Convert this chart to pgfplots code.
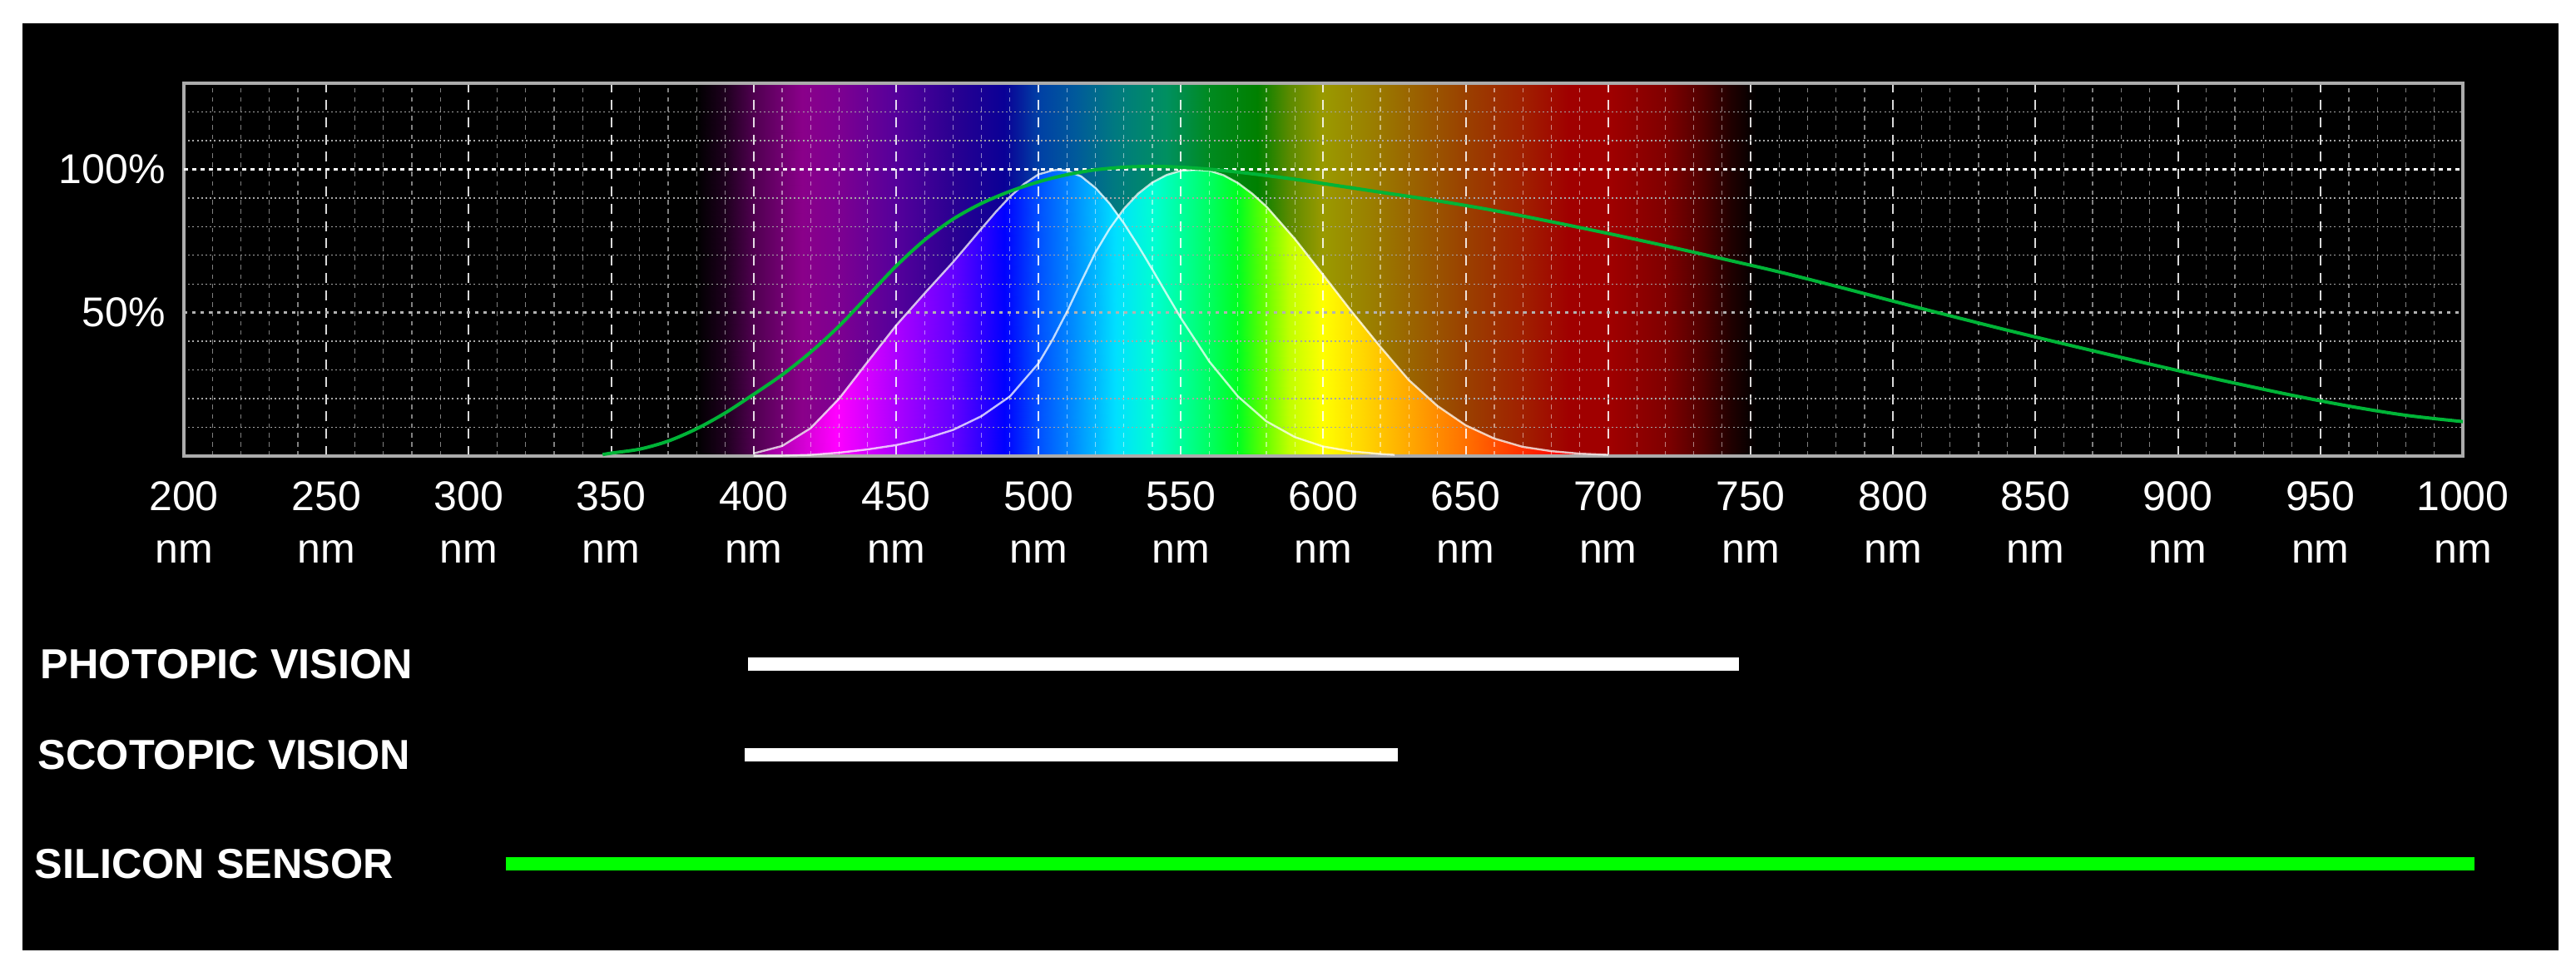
\documentclass[border=0pt]{standalone}
\usepackage{fontspec}
\setmainfont{Liberation Sans}
\usepackage{pgfplots}
\usepackage{pgfplotstable}
\pgfplotsset{compat=1.18}

\definecolor{sicurve}{RGB}{0,180,55}
\definecolor{sibar}{RGB}{0,255,0}

% dim spectrum behind the grid and bright spectrum under the eye curves
\pgfplotsset{
  colormap={dimspec}{
    rgb255(380pt)=(0,0,0) rgb255(390pt)=(30,0,30) rgb255(400pt)=(80,0,80)
    rgb255(417pt)=(138,0,138) rgb255(430pt)=(125,0,145) rgb255(450pt)=(85,0,155)
    rgb255(470pt)=(42,0,145) rgb255(488pt)=(10,0,150) rgb255(500pt)=(0,64,165)
    rgb255(513pt)=(0,90,155) rgb255(527pt)=(0,122,128) rgb255(545pt)=(0,144,96)
    rgb255(560pt)=(0,138,32) rgb255(577pt)=(0,128,0) rgb255(588pt)=(90,138,0)
    rgb255(600pt)=(154,154,0) rgb255(616pt)=(154,128,0) rgb255(633pt)=(154,96,0)
    rgb255(650pt)=(154,64,0) rgb255(670pt)=(160,32,0) rgb255(686pt)=(160,0,0)
    rgb255(700pt)=(160,0,0) rgb255(720pt)=(128,0,0) rgb255(733pt)=(80,0,0)
    rgb255(743pt)=(32,0,0) rgb255(752pt)=(0,0,0)
  },
  colormap={brightspec}{
    rgb255(380pt)=(0,0,0) rgb255(395pt)=(60,0,60) rgb255(405pt)=(160,0,160)
    rgb255(417pt)=(210,0,210) rgb255(429pt)=(255,0,255) rgb255(441pt)=(208,0,255)
    rgb255(453pt)=(160,0,255) rgb255(471pt)=(96,0,255) rgb255(488pt)=(0,0,255)
    rgb255(500pt)=(0,80,255) rgb255(513pt)=(0,144,255) rgb255(527pt)=(0,224,255)
    rgb255(541pt)=(0,255,208) rgb255(555pt)=(0,255,128) rgb255(570pt)=(0,255,32)
    rgb255(579pt)=(96,255,0) rgb255(588pt)=(192,255,0) rgb255(600pt)=(255,255,0)
    rgb255(616pt)=(255,208,0) rgb255(633pt)=(255,160,0) rgb255(650pt)=(255,112,0)
    rgb255(670pt)=(255,48,0) rgb255(685pt)=(255,0,0) rgb255(700pt)=(200,0,0)
    rgb255(720pt)=(128,0,0) rgb255(740pt)=(40,0,0) rgb255(752pt)=(0,0,0)
  },
}

% background band, 2 rows
\pgfplotstableread{
x y
380 0
400 0
450 0
500 0
550 0
600 0
650 0
700 0
752 0
380 130
400 130
450 130
500 130
550 130
600 130
650 130
700 130
752 130
}\bandmesh

% scotopic curve (relative sensitivity, %)
\pgfplotstableread{
x y
400 0.9
410 3.5
420 9.7
430 20
440 32.8
450 45.5
460 56.7
470 67.6
480 79.3
485 85.1
490 90.4
495 94.9
500 98.2
505 99.6
507 99.8
510 99.5
515 97.5
520 93.5
525 88
530 81.1
535 73.3
540 65
545 56.5
550 48.1
560 32.9
570 20.8
580 12.1
590 6.6
600 3.3
610 1.6
620 0.7
625 0.4
}\scotopic

\pgfplotstableread{
x y
400 0
410 0
420 0
430 0
440 0
450 0
460 0
470 0
480 0
485 0
490 0
495 0
500 0
505 0
507 0
510 0
515 0
520 0
525 0
530 0
535 0
540 0
545 0
550 0
560 0
570 0
580 0
590 0
600 0
610 0
620 0
625 0
400 0.9
410 3.5
420 9.7
430 20
440 32.8
450 45.5
460 56.7
470 67.6
480 79.3
485 85.1
490 90.4
495 94.9
500 98.2
505 99.6
507 99.8
510 99.5
515 97.5
520 93.5
525 88
530 81.1
535 73.3
540 65
545 56.5
550 48.1
560 32.9
570 20.8
580 12.1
590 6.6
600 3.3
610 1.6
620 0.7
625 0.4
}\scotopicmesh

% photopic curve
\pgfplotstableread{
x y
400 0.04
410 0.12
420 0.4
430 1.16
440 2.3
450 3.8
460 6
470 9.1
480 13.9
490 20.8
500 32.3
505 40.7
510 50.3
515 60.8
520 71
525 79.3
530 86.2
535 91.5
540 95.4
545 98
550 99.5
555 99.8
560 99.5
565 97.9
570 95.2
575 91.5
580 87
590 75.7
600 63.1
610 50.3
620 38.1
630 26.5
640 17.5
650 10.7
660 6.1
670 3.2
680 1.7
690 0.82
700 0.41
}\photopic

\pgfplotstableread{
x y
400 0
410 0
420 0
430 0
440 0
450 0
460 0
470 0
480 0
490 0
500 0
505 0
510 0
515 0
520 0
525 0
530 0
535 0
540 0
545 0
550 0
555 0
560 0
565 0
570 0
575 0
580 0
590 0
600 0
610 0
620 0
630 0
640 0
650 0
660 0
670 0
680 0
690 0
700 0
400 0.04
410 0.12
420 0.4
430 1.16
440 2.3
450 3.8
460 6
470 9.1
480 13.9
490 20.8
500 32.3
505 40.7
510 50.3
515 60.8
520 71
525 79.3
530 86.2
535 91.5
540 95.4
545 98
550 99.5
555 99.8
560 99.5
565 97.9
570 95.2
575 91.5
580 87
590 75.7
600 63.1
610 50.3
620 38.1
630 26.5
640 17.5
650 10.7
660 6.1
670 3.2
680 1.7
690 0.82
700 0.41
}\photopicmesh

% silicon sensor response
\pgfplotstableread{
x y
347 0.5
350 1
360 2.4
370 5.2
380 9.5
390 15
400 21.5
410 28.3
420 36.2
430 45.3
440 55.7
450 66.2
460 75.3
470 82.6
480 88.1
490 92.3
500 95.6
510 98.1
520 99.8
530 100.7
540 101
550 100.7
560 100
570 99
580 97.8
590 96.5
600 95
620 92
640 89
660 85.6
680 81.7
700 77.6
720 73.3
740 68.8
760 64.2
780 59.2
800 54
820 48.9
840 43.9
860 39.1
880 34.4
900 29.8
920 25.4
940 21.2
960 17.4
980 14.2
1000 12
}\silicon

\begin{document}
\begin{tikzpicture}
\fill[white] (0,0) rectangle (774pt,290.5pt);
\fill[black] (6.75pt,5pt) rectangle (768.75pt,283.5pt);

\begin{axis}[
  at={(55.25pt,153.5pt)}, anchor=south west,
  scale only axis, width=684.75pt, height=112pt,
  xmin=200, xmax=1000, ymin=0, ymax=130,
  axis on top,
  axis line style={draw=gray!65, line width=0.8pt},
  major tick length=0pt, minor tick length=0pt,
  xtick={200,250,...,1000},
  xticklabels={200\\nm,250\\nm,300\\nm,350\\nm,400\\nm,450\\nm,500\\nm,550\\nm,600\\nm,650\\nm,700\\nm,750\\nm,800\\nm,850\\nm,900\\nm,950\\nm,1000\\nm},
  minor x tick num=4,
  ytick={50}, yticklabels={50\%},
  extra y ticks={100}, extra y tick labels={100\%},
  minor ytick={10,20,30,40,60,70,80,90,110,120},
  xmajorgrids, xminorgrids, ymajorgrids, yminorgrids,
  major x grid style={white, opacity=0.85, line width=0.5pt, dash pattern=on 3pt off 2.2pt},
  minor x grid style={white, opacity=0.5, line width=0.3pt, dash pattern=on 1.4pt off 1.4pt},
  major y grid style={gray!60!white, line width=0.7pt, dash pattern=on 1pt off 1.5pt},
  minor y grid style={gray!70!white, line width=0.35pt, dash pattern=on 0.5pt off 0.8pt},
  extra y tick style={major y grid style={white, line width=0.6pt, dash pattern=on 1.2pt off 1.3pt}},
  ticklabel style={font=\fontsize{12.5}{15.75}\selectfont, text=white},
  xticklabel style={align=center, yshift=-4pt},
  yticklabel style={xshift=-2pt},
  point meta min=380, point meta max=752,
]
\addplot[surf, shader=interp, colormap name=dimspec, point meta=x, mesh/rows=2] table {\bandmesh};
\addplot[surf, shader=interp, colormap name=brightspec, point meta=x, mesh/rows=2] table {\scotopicmesh};
\addplot[surf, shader=interp, colormap name=brightspec, point meta=x, mesh/rows=2] table {\photopicmesh};
\end{axis}

\begin{axis}[
  at={(55.25pt,153.5pt)}, anchor=south west,
  scale only axis, width=684.75pt, height=112pt,
  xmin=200, xmax=1000, ymin=0, ymax=130,
  hide axis, clip=false,
]
\addplot[white, opacity=0.75, line width=0.6pt] table {\scotopic};
\addplot[white, opacity=0.75, line width=0.6pt] table {\photopic};
\addplot[sicurve, line width=1pt, smooth] table {\silicon};

\addplot[white, line width=4pt] coordinates {(398,-72.5) (746,-72.5)};
\addplot[white, line width=4pt] coordinates {(397,-104.1) (626,-104.1)};
\addplot[sibar, line width=4pt] coordinates {(313,-142.3) (1004,-142.3)};

\node[anchor=west, inner sep=0, text=white, font=\bfseries\fontsize{12.6}{14}\selectfont]
  at (axis cs:149.5,-72.5) {PHOTOPIC VISION};
\node[anchor=west, inner sep=0, text=white, font=\bfseries\fontsize{12.6}{14}\selectfont]
  at (axis cs:148.6,-104.1) {SCOTOPIC VISION};
\node[anchor=west, inner sep=0, text=white, font=\bfseries\fontsize{12.6}{14}\selectfont]
  at (axis cs:147.4,-142.3) {SILICON SENSOR};
\end{axis}
\end{tikzpicture}
\end{document}
